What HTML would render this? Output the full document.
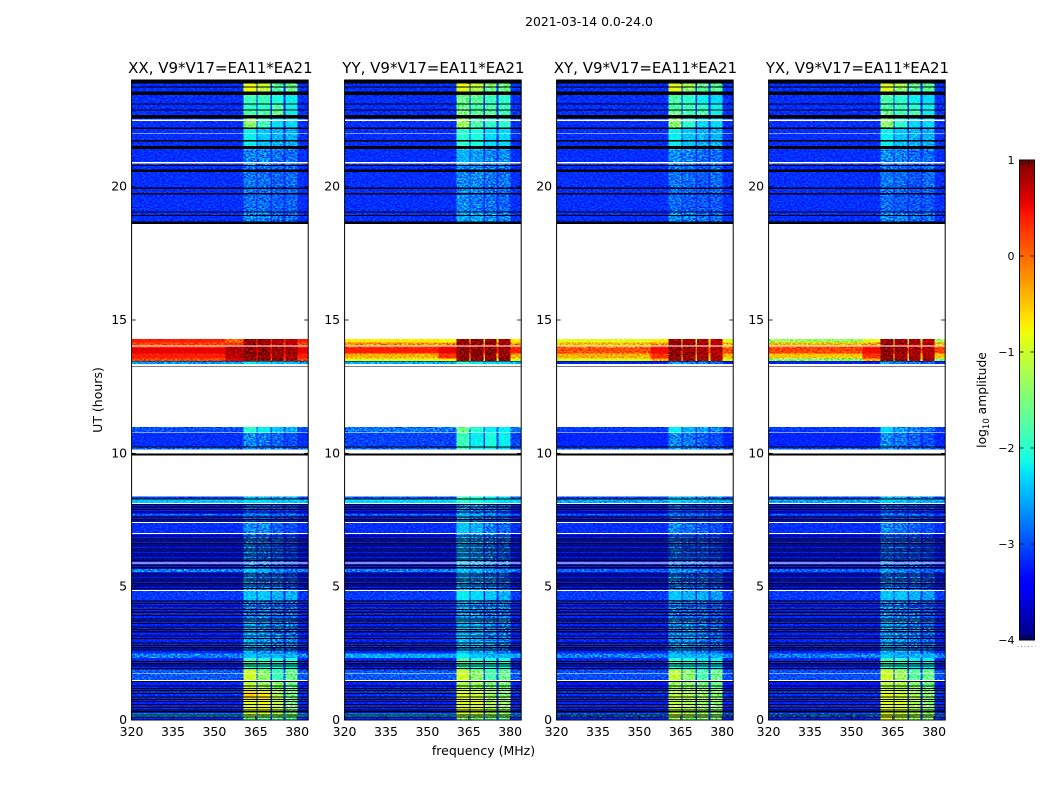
<!DOCTYPE html>
<html>
<head>
<meta charset="utf-8">
<title>2021-03-14 amplitude waterfall</title>
<style>
html,body{margin:0;padding:0;background:#fff;width:1050px;height:800px;overflow:hidden}
svg text{font-family:"DejaVu Sans","Liberation Sans",sans-serif;fill:#000}
</style>
</head>
<body>
<svg id="chart" xmlns="http://www.w3.org/2000/svg" width="1050" height="800" viewBox="0 0 1050 800">
<defs>
<filter id="speckle" x="0" y="0" width="100%" height="100%" color-interpolation-filters="sRGB">
<feTurbulence type="fractalNoise" baseFrequency="0.45 0.7" numOctaves="2" seed="7"/>
<feColorMatrix type="matrix" values="2.2 0 0 0 -0.6  2.2 0 0 0 -0.6  2.2 0 0 0 -0.6  0 0 0 0 1"/>
</filter>
<linearGradient id="jet-gradient" x1="0" y1="1" x2="0" y2="0"></linearGradient>
</defs>
<text x="589" y="26" font-size="12.4" text-anchor="middle">2021-03-14 0.0-24.0</text>
<text x="483.500" y="755" font-size="12.5" text-anchor="middle">frequency (MHz)</text>
<text transform="translate(102 400) rotate(-90)" font-size="12.5" text-anchor="middle">UT (hours)</text>
<text transform="translate(986 400) rotate(-90)" font-size="12.3" text-anchor="middle">log<tspan font-size="8.5" dy="3">10</tspan><tspan dy="-3"> amplitude</tspan></text>
</svg>
<script>
// ---- axis tick values ----
const freqTicks = [320, 335, 350, 365, 380];
const hourTicks = [0, 5, 10, 15, 20];
const colorTicks = [-4, -3, -2, -1, 0, 1];
const colorTickLabels = ['\u22124', '\u22123', '\u22122', '\u22121', '0', '1'];
const panelTitles = ['XX, V9*V17=EA11*EA21', 'YY, V9*V17=EA11*EA21', 'XY, V9*V17=EA11*EA21', 'YX, V9*V17=EA11*EA21'];

// ---- time blocks (start hour, UT) ----
const blockStart = [0,0.125,0.25,0.75,1.125,1.46,1.875,2.33,2.5,3.75,4.5,4.84,5.55,5.66,6.98,7.39,7.67,7.73,8.09,8.27,8.38,10.14,10.21,10.76,10.99,13.35,13.47,13.55,13.75,13.95,14.05,14.15,14.29,18.6,19.05,19.7,20.8,21.4,22.2,22.56,22.9,23.1,23.44,23.56,23.75];
const midBlockStart = [13.47,13.55,13.75,13.95,14.05,14.15];
const midBlockEnd = [13.55,13.75,13.95,14.05,14.15,14.29];

// ---- frequency zones (MHz) ----
const bandLow = [360.6, 365.7, 370.8, 375.7];
const bandHigh = [365.3, 370.4, 375.1, 380.1];
const midLow = 354;
const midHigh = 360.6;

// ---- log10 amplitude, XX ----
const xxBg = [-3.2,-2.5,-3.2,-3.15,-3.2,-2.95,-3.2,-2.75,-3.2,-3.2,-3.1,-3.25,-2.75,-3.25,-3.15,-3.25,-2.85,-3.25,-2.4,-3.1,null,-2.9,-3.15,-3.0,null,-2.6,0.2,0.4,0.55,0.4,0.2,0.4,null,-3.15,-3.15,-3.15,-3.15,-3.15,-3.15,-3.15,-3.15,-3.15,-3.15,-3.15,-3.15];
const xxB1 = [-1.6,-1.2,-0.9,-0.6,-1.1,-1.0,-1.9,-2.4,-2.55,-2.75,-2.4,-2.65,-2.4,-2.75,-2.7,-2.95,-2.7,-2.95,-2.3,-2.5,null,-2.6,-2.7,-2.0,null,-2.2,0.9,0.95,0.95,0.9,0.9,0.9,null,-2.7,-2.85,-2.8,-2.75,-2.2,-1.4,-1.8,-2.0,-1.9,-1.9,-0.8,-0.8];
const xxB2 = [-1.7,-1.3,-0.8,-0.7,-1.3,-1.4,-2.0,-2.5,-2.65,-2.75,-2.4,-2.75,-2.5,-2.85,-2.7,-3.0,-2.7,-3.0,-2.3,-2.5,null,-2.7,-2.8,-2.2,null,-2.3,0.9,0.95,0.95,0.9,0.85,0.85,null,-2.75,-2.85,-2.85,-2.75,-2.4,-1.9,-1.8,-2.0,-1.9,-1.9,-1.1,-1.0];
const xxB3 = [-1.7,-1.3,-1.1,-1.2,-1.4,-1.9,-2.1,-2.5,-2.75,-2.85,-2.5,-2.85,-2.7,-2.95,-2.9,-3.05,-2.8,-3.05,-2.4,-2.6,null,-2.8,-2.9,-2.4,null,-2.4,0.85,0.9,0.9,0.85,0.8,0.8,null,-2.85,-2.9,-2.9,-2.85,-2.5,-2.3,-1.6,-1.8,-2.1,-2.1,-1.8,-1.7];
const xxB4 = [-1.8,-1.4,-1.5,-1.5,-1.6,-1.6,-2.1,-2.5,-2.75,-2.85,-2.5,-2.95,-2.8,-3.05,-3.0,-3.05,-2.8,-3.05,-2.4,-2.6,null,-2.9,-3.0,-2.5,null,-2.4,0.8,0.85,0.85,0.8,0.75,0.75,null,-2.85,-2.9,-2.85,-2.85,-2.5,-2.3,-2.2,-2.2,-2.2,-2.2,-1.6,-1.6];
const xxMid = [0.55,0.75,0.8,0.65,0.3,0.0];

// ---- log10 amplitude, YY ----
const yyBg = [-3.2,-2.5,-3.2,-3.15,-3.2,-2.95,-3.2,-2.55,-3.2,-3.2,-3.1,-3.25,-2.75,-3.25,-3.15,-3.25,-2.85,-3.25,-2.3,-3.0,null,-2.9,-3.05,-2.8,null,-2.5,-0.9,-0.4,0.4,0.3,-0.2,-0.7,null,-3.15,-3.15,-3.15,-3.15,-3.15,-3.15,-3.15,-3.15,-3.15,-3.15,-3.15,-3.15];
const yyB1 = [-1.5,-1.1,-0.9,-0.9,-1.2,-1.0,-1.8,-2.2,-2.45,-2.55,-2.2,-2.55,-2.4,-2.55,-2.4,-2.55,-2.4,-2.65,-2.0,-1.9,null,-1.9,-1.9,-1.6,null,-2.0,0.9,0.95,0.95,0.9,0.9,0.9,null,-2.55,-2.7,-2.7,-2.5,-2.0,-1.3,-1.5,-1.6,-1.6,-1.4,-0.9,-0.8];
const yyB2 = [-1.5,-1.2,-0.9,-1.0,-1.3,-1.4,-2.0,-2.4,-2.55,-2.65,-2.3,-2.65,-2.5,-2.65,-2.5,-2.75,-2.5,-2.75,-2.1,-2.0,null,-2.2,-2.2,-2.0,null,-2.2,0.95,0.95,0.95,0.9,0.9,0.9,null,-2.55,-2.8,-2.7,-2.6,-2.1,-1.8,-1.7,-1.8,-1.7,-1.7,-1.2,-1.0];
const yyB3 = [-1.6,-1.3,-1.2,-1.3,-1.5,-1.8,-2.1,-2.5,-2.65,-2.75,-2.4,-2.75,-2.6,-2.75,-2.75,-2.85,-2.6,-2.85,-2.2,-2.2,null,-2.2,-2.1,-2.2,null,-2.3,0.95,0.95,0.95,0.9,0.9,0.9,null,-2.65,-2.8,-2.8,-2.7,-2.3,-2.0,-1.7,-1.8,-1.9,-1.8,-1.6,-1.4];
const yyB4 = [-1.7,-1.4,-1.3,-1.4,-1.5,-1.6,-2.1,-2.5,-2.75,-2.75,-2.5,-2.85,-2.7,-2.85,-2.85,-2.95,-2.7,-2.95,-2.3,-2.3,null,-2.3,-2.2,-2.2,null,-2.3,0.9,0.9,0.9,0.85,0.85,0.85,null,-2.75,-2.9,-2.8,-2.7,-2.3,-2.0,-1.9,-1.9,-2.0,-2.0,-1.6,-1.5];
const yyMid = [-0.7,0.3,0.55,0.45,-0.1,-0.8];

// ---- log10 amplitude, XY ----
const xyBg = [-3.2,-2.75,-3.2,-3.15,-3.25,-3.0,-3.2,-2.75,-3.2,-3.2,-3.1,-3.25,-2.9,-3.25,-3.15,-3.25,-2.95,-3.25,-2.55,-3.1,null,-3.0,-3.2,-3.1,null,-3.2,-0.9,-0.4,0.15,0.0,-0.4,-0.9,null,-3.15,-3.15,-3.15,-3.15,-3.15,-3.15,-3.15,-3.15,-3.15,-3.15,-3.15,-3.15];
const xyB1 = [-1.3,-1.1,-1.1,-1.1,-1.3,-1.1,-2.0,-2.4,-2.65,-2.75,-2.4,-2.75,-2.6,-2.85,-2.7,-2.95,-2.7,-2.95,-2.3,-2.5,null,-2.6,-2.7,-2.2,null,-2.6,0.9,0.95,0.95,0.9,0.9,0.9,null,-2.7,-2.85,-2.8,-2.7,-2.2,-1.4,-1.6,-1.8,-1.8,-1.7,-0.9,-0.9];
const xyB2 = [-1.4,-1.2,-1.2,-1.2,-1.4,-1.4,-2.1,-2.5,-2.65,-2.85,-2.5,-2.85,-2.7,-2.95,-2.8,-3.05,-2.8,-3.05,-2.4,-2.6,null,-2.7,-2.8,-2.5,null,-2.7,0.85,0.9,0.9,0.85,0.85,0.85,null,-2.75,-2.95,-2.85,-2.75,-2.4,-2.0,-1.9,-1.9,-2.0,-1.9,-1.4,-1.2];
const xyB3 = [-1.4,-1.3,-1.3,-1.3,-1.5,-1.8,-2.2,-2.5,-2.75,-2.85,-2.5,-2.85,-2.8,-2.95,-2.9,-3.05,-2.8,-3.1,-2.5,-2.7,null,-2.8,-2.9,-2.6,null,-2.7,0.8,0.85,0.85,0.8,0.8,0.8,null,-2.85,-2.95,-2.95,-2.85,-2.5,-2.3,-1.8,-2.0,-2.2,-2.1,-1.7,-1.6];
const xyB4 = [-1.5,-1.4,-1.4,-1.4,-1.6,-1.6,-2.2,-2.5,-2.85,-2.95,-2.6,-2.95,-2.9,-3.05,-3.0,-3.1,-2.9,-3.1,-2.5,-2.7,null,-2.9,-3.0,-2.7,null,-2.8,0.75,0.8,0.8,0.75,0.75,0.75,null,-2.85,-2.95,-2.85,-2.85,-2.5,-2.3,-2.2,-2.2,-2.3,-2.2,-1.7,-1.7];
const xyMid = [-0.3,0.3,0.5,0.4,-0.2,-0.7];

// ---- log10 amplitude, YX ----
const yxBg = [-3.2,-2.75,-3.2,-3.15,-3.25,-3.0,-3.2,-2.75,-3.2,-3.2,-3.1,-3.25,-2.9,-3.25,-3.15,-3.25,-2.95,-3.25,-2.55,-3.1,null,-3.0,-3.2,-3.1,null,-3.2,-1.5,-0.5,0.2,0.15,-0.4,-1.3,null,-3.15,-3.15,-3.15,-3.15,-3.15,-3.15,-3.15,-3.15,-3.15,-3.15,-3.15,-3.15];
const yxB1 = [-0.9,-0.9,-0.9,-0.9,-1.1,-1.0,-1.9,-2.4,-2.55,-2.65,-2.4,-2.75,-2.6,-2.85,-2.7,-2.95,-2.7,-2.95,-2.3,-2.5,null,-2.6,-2.7,-2.3,null,-2.6,0.9,0.95,0.95,0.9,0.9,0.9,null,-2.7,-2.85,-2.8,-2.7,-2.2,-1.4,-1.6,-1.8,-1.8,-1.7,-0.9,-0.9];
const yxB2 = [-1.1,-1.1,-0.9,-1.0,-1.2,-1.3,-2.0,-2.5,-2.65,-2.75,-2.4,-2.85,-2.7,-2.95,-2.8,-3.05,-2.8,-3.05,-2.4,-2.6,null,-2.7,-2.8,-2.6,null,-2.7,0.85,0.9,0.9,0.85,0.85,0.85,null,-2.75,-2.95,-2.85,-2.75,-2.4,-2.0,-1.9,-1.9,-2.0,-1.9,-1.4,-1.2];
const yxB3 = [-1.3,-1.2,-1.2,-1.2,-1.4,-1.7,-2.2,-2.5,-2.75,-2.85,-2.5,-2.85,-2.8,-2.95,-2.9,-3.05,-2.8,-3.1,-2.5,-2.7,null,-2.8,-2.9,-2.7,null,-2.7,0.85,0.85,0.85,0.8,0.8,0.8,null,-2.85,-2.95,-2.95,-2.85,-2.5,-2.3,-1.8,-2.0,-2.2,-2.1,-1.7,-1.6];
const yxB4 = [-1.4,-1.3,-1.4,-1.4,-1.6,-1.6,-2.2,-2.5,-2.85,-2.95,-2.6,-2.95,-2.9,-3.05,-3.0,-3.1,-2.9,-3.1,-2.5,-2.7,null,-2.9,-3.0,-2.8,null,-2.8,0.8,0.8,0.8,0.75,0.75,0.75,null,-2.85,-2.95,-2.85,-2.85,-2.5,-2.3,-2.2,-2.2,-2.3,-2.2,-1.7,-1.7];
const yxMid = [-0.4,0.3,0.5,0.4,-0.2,-0.9];

// ---- flagged time ranges (hours) ----
const zeroStart = [23.875,23.71,23.44,23.08,22.86,22.56,22.17,21.70,21.41,20.77,20.55,19.91,19.70,19.03,18.90,18.60,13.44,13.25,10.21,9.91,8.27];
const zeroEnd = [24,23.75,23.56,23.12,22.90,22.69,22.22,21.75,21.53,20.81,20.65,19.96,19.77,19.06,18.94,18.69,13.47,13.28,10.25,10.0,8.31];
const flagStart = [22.47,21.99,20.87,14.0,13.28,10.76,10.0,8.09,7.39,6.98,5.86,4.84,1.74,1.46];
const flagEnd = [22.51,22.02,20.92,14.05,13.35,10.78,10.14,8.13,7.43,7.01,5.90,4.88,1.77,1.50];
// single dropped integrations (hours)
const zeroLineHours = [0.09,0.17,0.29,0.35,0.45,0.56,0.675,0.75,0.85,0.975,1.09,1.16,1.25,1.425,1.91,2.0,2.09,2.175,2.6,2.69,2.775,2.875,3.04,3.125,3.29,3.375,3.475,3.6,3.69,3.775,3.9,4.02,4.125,4.25,4.35,4.44,4.91,5.0,5.09,5.19,5.275,5.375,5.46,5.69,5.775,5.96,6.025,6.125,6.21,6.31,6.4,6.5,6.59,6.69,6.775,6.875,7.44,7.5,7.59,7.775,7.875,7.975,8.06];

// ---- layout ----
const NS = 'http://www.w3.org/2000/svg';
const svg = document.getElementById('chart');
const panelLeft = [131.6, 344.6, 556.6, 768.6];
const panelWidth = 176.6;
const plotTop = 80;
const plotBottom = 720;
const freqMin = 320, freqMax = 384, hourMin = 0, hourMax = 24;
const lineThickness = 0.04;

function make(tag, attrs, parent) {
  const el = document.createElementNS(NS, tag);
  for (const k in attrs) el.setAttribute(k, attrs[k]);
  parent.appendChild(el);
  return el;
}
const xScale = (left, f) => left + (f - freqMin) / (freqMax - freqMin) * panelWidth;
const yScale = h => plotBottom - (h - hourMin) / (hourMax - hourMin) * (plotBottom - plotTop);

const jetR = [[0,0],[0.35,0],[0.66,1],[0.89,1],[1,0.5]];
const jetG = [[0,0],[0.125,0],[0.375,1],[0.64,1],[0.91,0],[1,0]];
const jetB = [[0,0.5],[0.11,1],[0.34,1],[0.65,0],[1,0]];
function ramp(table, t) {
  for (let i = 1; i < table.length; i++) {
    if (t <= table[i][0]) {
      const a = table[i - 1], b = table[i];
      return a[1] + (b[1] - a[1]) * (t - a[0]) / (b[0] - a[0]);
    }
  }
  return table[table.length - 1][1];
}
function jet(t) {
  t = Math.max(0, Math.min(1, t));
  return 'rgb(' + Math.round(255 * ramp(jetR, t)) + ',' + Math.round(255 * ramp(jetG, t)) + ',' + Math.round(255 * ramp(jetB, t)) + ')';
}
const colorOf = v => jet((v + 4) / 5);

function cell(group, left, f0, f1, h0, h1, fill) {
  const x0 = xScale(left, f0), x1 = xScale(left, f1);
  const y0 = yScale(h1), y1 = yScale(h0);
  const r = make('rect', {x: x0, y: y0, width: x1 - x0, height: y1 - y0, fill: fill}, group);
  
  
  return r;
}

const panels = [
  {key: 'xx', bg: xxBg, bands: [xxB1, xxB2, xxB3, xxB4], mid: xxMid},
  {key: 'yy', bg: yyBg, bands: [yyB1, yyB2, yyB3, yyB4], mid: yyMid},
  {key: 'xy', bg: xyBg, bands: [xyB1, xyB2, xyB3, xyB4], mid: xyMid},
  {key: 'yx', bg: yxBg, bands: [yxB1, yxB2, yxB3, yxB4], mid: yxMid}
];

panels.forEach(function (p, pi) {
  const left = panelLeft[pi];
  const g = make('g', {}, svg);
  
  

  const heat = make('g', {'shape-rendering': 'crispEdges', style: 'isolation:isolate'}, g);
  
  

  const base = make('rect', {x: left, y: plotTop, width: panelWidth, height: plotBottom - plotTop, fill: '#ffffff'}, heat);
  
  

  blockStart.forEach(function (start, i) {
    const end = i + 1 < blockStart.length ? blockStart[i + 1] : hourMax;
    if (p.bg[i] === null) return;
    cell(heat, left, freqMin, freqMax, start, end, colorOf(p.bg[i]));
  });
  midBlockStart.forEach(function (start, i) {
    cell(heat, left, midLow, midHigh, start, midBlockEnd[i], colorOf(p.mid[i]));
  });
  blockStart.forEach(function (start, i) {
    const end = i + 1 < blockStart.length ? blockStart[i + 1] : hourMax;
    p.bands.forEach(function (series, b) {
      if (series[i] === null) return;
      cell(heat, left, bandLow[b], bandHigh[b], start, end, colorOf(series[i]));
    });
  });

  const noise = make('rect', {x: left, y: plotTop, width: panelWidth, height: plotBottom - plotTop, fill: '#808080', filter: 'url(#speckle)', style: 'mix-blend-mode:overlay'}, heat);
  
  

  flagStart.forEach(function (start, i) {
    cell(heat, left, freqMin, freqMax, start, flagEnd[i], '#ffffff');
  });
  zeroStart.forEach(function (start, i) {
    cell(heat, left, freqMin, freqMax, start, zeroEnd[i], '#000000');
  });
  zeroLineHours.forEach(function (h) {
    cell(heat, left, freqMin, freqMax, h, h + lineThickness, '#000000');
  });

  const frame = make('rect', {x: left, y: plotTop, width: panelWidth, height: plotBottom - plotTop, fill: 'none', stroke: '#000', 'stroke-width': 1}, g);
  
  

  const title = make('text', {x: left + panelWidth / 2 + 0.5, y: 73, 'font-size': 15, 'text-anchor': 'middle'}, g);
  
  
  title.textContent = panelTitles[pi];

  freqTicks.forEach(function (f) {
    const x = xScale(left, f);
    [[plotBottom, plotBottom - 4], [plotTop, plotTop + 4]].forEach(function (s) {
      const t = make('line', {x1: x, x2: x, y1: s[0], y2: s[1], stroke: '#000', 'stroke-width': 0.8}, g);
      
      
    });
    const lab = make('text', {x: x, y: 736, 'font-size': 12.5, 'text-anchor': 'middle'}, g);
    
    
    lab.textContent = f;
  });
  hourTicks.forEach(function (h) {
    const y = yScale(h);
    [[left, left + 4], [left + panelWidth, left + panelWidth - 4]].forEach(function (s) {
      const t = make('line', {x1: s[0], x2: s[1], y1: y, y2: y, stroke: '#000', 'stroke-width': 0.8}, g);
      
      
    });
    const lab = make('text', {x: left - 4.5, y: y + 4, 'font-size': 12.5, 'text-anchor': 'end'}, g);
    
    
    lab.textContent = h;
  });
});

// ---- colorbar ----
const cbLeft = 1019.5, cbWidth = 15, cbTop = 160, cbBottom = 640;
const cbY = v => cbBottom - (v + 4) / 5 * (cbBottom - cbTop);
const grad = document.getElementById('jet-gradient');
for (let i = 0; i <= 60; i++) {
  make('stop', {offset: (i / 60), 'stop-color': jet(i / 60)}, grad);
}
const cb = make('g', {}, svg);


const cbRect = make('rect', {x: cbLeft, y: cbTop, width: cbWidth, height: cbBottom - cbTop, fill: 'url(#jet-gradient)', stroke: '#000', 'stroke-width': 1}, cb);


colorTicks.forEach(function (v, i) {
  const y = cbY(v);
  [[cbLeft, cbLeft + 4], [cbLeft + cbWidth, cbLeft + cbWidth - 4]].forEach(function (s) {
    const t = make('line', {x1: s[0], x2: s[1], y1: y, y2: y, stroke: '#000', 'stroke-width': 0.8}, cb);
    
    
  });
  const lab = make('text', {x: cbLeft - 5, y: y + 4, 'font-size': 11, 'text-anchor': 'end'}, cb);
  
  
  lab.textContent = colorTickLabels[i];
});
const cbMinorOffsets = [3, 6, 9, 12];
cbMinorOffsets.forEach(function (dx) {
  const top = make('line', {x1: cbLeft + dx, x2: cbLeft + dx, y1: cbTop, y2: cbTop + 5, stroke: '#000', 'stroke-width': 0.8}, cb);
  
  
  const bottom = make('line', {x1: cbLeft + dx, x2: cbLeft + dx, y1: cbBottom, y2: cbBottom - 5, stroke: '#000', 'stroke-width': 0.8}, cb);
  
  
});
const dots = make('line', {x1: cbLeft - 2, x2: cbLeft + cbWidth + 1, y1: 646.500, y2: 646.500, stroke: '#888', 'stroke-width': 1, 'stroke-dasharray': '1 2.500'}, cb);


</script>
</body>
</html>
